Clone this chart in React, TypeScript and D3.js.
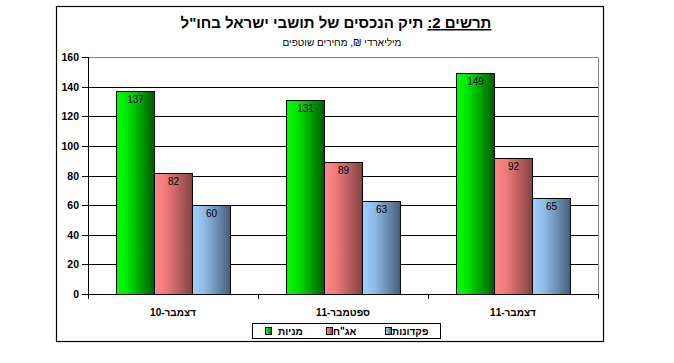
import React, { useEffect, useRef } from 'react';
import * as d3 from 'd3';

const categories = ['דצמבר-10', 'ספטמבר-11', 'דצמבר-11'];
const seriesNames = ['מניות', 'אג"ח', 'פקדונות'];
const stocks = [137, 131, 149];
const bonds = [82, 89, 92];
const deposits = [60, 63, 65];
const yTicks = [0, 20, 40, 60, 80, 100, 120, 140, 160];

const seriesValues = [stocks, bonds, deposits];
// light -> dark horizontal gradients, like the old excel fill
const gradients = [
	['#00ff00', '#00e400', '#005a00'],
	['#ff8a8a', '#f07a7a', '#844242'],
	['#a0d0ff', '#90bde8', '#465e7c'],
];

const FONT = 'Arial, "Liberation Sans", sans-serif';

const App = () => {
	const ref = useRef<SVGSVGElement | null>(null);
	const width = 674;
	const height = 363;

	useEffect(() => {
		if (!ref.current) return;
		const svg = d3.select(ref.current);
		svg.selectAll('*').remove();

		const plot = { l: 88, r: 598, t: 57, b: 294 };

		const x = d3.scaleBand<string>().domain(categories).range([plot.l, plot.r]);
		const xs = d3
			.scaleBand<string>()
			.domain(seriesNames)
			.range([x.bandwidth() * 0.165, x.bandwidth() * 0.835]);
		const y = d3.scaleLinear().domain([0, 160]).range([plot.b, plot.t]);

		const defs = svg.append('defs');
		gradients.forEach((g, i) => {
			const lg = defs.append('linearGradient').attr('id', `grad${i}`).attr('x1', 0).attr('x2', 1).attr('y1', 0).attr('y2', 0);
			lg.append('stop').attr('offset', '0%').attr('stop-color', g[0]);
			lg.append('stop').attr('offset', '30%').attr('stop-color', g[1]);
			lg.append('stop').attr('offset', '100%').attr('stop-color', g[2]);
		});

		svg.append('rect').attr('width', width).attr('height', height).attr('fill', '#fff');

		// outer frame
		svg.append('rect')
			.attr('x', 56.5).attr('y', 6.5).attr('width', 547).attr('height', 335)
			.attr('fill', 'none').attr('stroke', '#000').attr('stroke-width', 1.2);

		// title
		const title = svg.append('text')
			.attr('x', 336).attr('y', 28)
			.attr('direction', 'rtl')
			.attr('text-anchor', 'middle')
			.style('font-family', FONT)
			.style('font-weight', 'bold')
			.style('font-size', '15px');
		title.append('tspan').style('text-decoration', 'underline').text('תרשים 2:');
		title.append('tspan').text(' תיק הנכסים של תושבי ישראל בחו"ל');

		svg.append('text')
			.attr('x', 342).attr('y', 46)
			.attr('direction', 'rtl')
			.attr('text-anchor', 'middle')
			.style('font-family', FONT)
			.style('font-size', '10px')
			.text('מיליארדי ₪, מחירים שוטפים');

		// plot border (gray top/right)
		svg.append('path')
			.attr('d', `M${plot.l},${plot.t + 0.5}H${plot.r + 0.5}V${plot.b}`)
			.attr('fill', 'none').attr('stroke', '#888').attr('stroke-width', 1);

		// grid lines
		svg.append('g')
			.selectAll('line')
			.data(yTicks.filter(d => d > 0 && d < 160))
			.join('line')
			.attr('x1', plot.l).attr('x2', plot.r)
			.attr('y1', d => Math.round(y(d)) + 0.5).attr('y2', d => Math.round(y(d)) + 0.5)
			.attr('stroke', '#000').attr('stroke-width', 1);

		// y axis
		const yAxis = svg.append('g');
		yAxis.append('line')
			.attr('x1', plot.l + 0.5).attr('x2', plot.l + 0.5)
			.attr('y1', plot.t).attr('y2', plot.b)
			.attr('stroke', '#000');
		yAxis.selectAll('.ytick')
			.data(yTicks)
			.join('line')
			.attr('class', 'ytick')
			.attr('x1', plot.l - 6).attr('x2', plot.l)
			.attr('y1', d => Math.round(y(d)) + 0.5).attr('y2', d => Math.round(y(d)) + 0.5)
			.attr('stroke', '#000');
		yAxis.selectAll('.ylab')
			.data(yTicks)
			.join('text')
			.attr('class', 'ylab')
			.attr('x', plot.l - 9)
			.attr('y', d => y(d) + 4)
			.attr('text-anchor', 'end')
			.style('font-family', FONT)
			.style('font-weight', 'bold')
			.style('font-size', '10.5px')
			.text(d => d);

		// bars
		const groups = svg.append('g')
			.selectAll('g')
			.data(categories)
			.join('g')
			.attr('transform', d => `translate(${x(d)},0)`);

		seriesNames.forEach((s, si) => {
			groups.append('rect')
				.attr('x', xs(s)! + 0.5)
				.attr('y', (d, ci) => Math.round(y(seriesValues[si][ci])) + 0.5)
				.attr('width', xs.bandwidth())
				.attr('height', (d, ci) => plot.b - Math.round(y(seriesValues[si][ci])))
				.attr('fill', `url(#grad${si})`)
				.attr('stroke', '#000')
				.attr('stroke-width', 1);
			groups.append('text')
				.attr('x', xs(s)! + xs.bandwidth() / 2 + 0.5)
				.attr('y', (d, ci) => y(seriesValues[si][ci]) + 12)
				.attr('text-anchor', 'middle')
				.style('font-family', FONT)
				.style('font-size', '10px')
				.text((d, ci) => seriesValues[si][ci]);
		});

		// x axis
		const xAxis = svg.append('g');
		xAxis.append('line')
			.attr('x1', plot.l).attr('x2', plot.r + 1)
			.attr('y1', plot.b + 0.5).attr('y2', plot.b + 0.5)
			.attr('stroke', '#000');
		xAxis.selectAll('.xtick')
			.data([...categories.map(c => x(c)!), plot.r])
			.join('line')
			.attr('class', 'xtick')
			.attr('x1', d => d + 0.5).attr('x2', d => d + 0.5)
			.attr('y1', plot.b).attr('y2', plot.b + 5)
			.attr('stroke', '#000');
		xAxis.selectAll('.xlab')
			.data(categories)
			.join('text')
			.attr('class', 'xlab')
			.attr('x', d => x(d)! + x.bandwidth() / 2)
			.attr('y', 316)
			.attr('direction', 'rtl')
			.attr('text-anchor', 'middle')
			.style('font-family', FONT)
			.style('font-weight', 'bold')
			.style('font-size', '10px')
			.text(d => d);

		// legend
		const legend = svg.append('g');
		legend.append('rect')
			.attr('x', 252.5).attr('y', 323.5).attr('width', 188).attr('height', 15)
			.attr('fill', '#fff').attr('stroke', '#000').attr('stroke-width', 1);
		const legendX = [265, 326, 385];
		const textX = [278, 333, 392];
		legend.selectAll('.lsq')
			.data(seriesNames)
			.join('rect')
			.attr('class', 'lsq')
			.attr('x', (d, i) => legendX[i] + 0.5)
			.attr('y', 327.5)
			.attr('width', 6).attr('height', 7)
			.attr('fill', (d, i) => `url(#grad${i})`)
			.attr('stroke', '#000');
		legend.selectAll('.ltxt')
			.data(seriesNames)
			.join('text')
			.attr('class', 'ltxt')
			.attr('x', (d, i) => textX[i])
			.attr('y', 335)
			.attr('text-anchor', 'start')
			.style('font-family', FONT)
			.style('font-weight', 'bold')
			.style('font-size', '10px')
			.text(d => d);
	}, []);

	return (
		<svg
			ref={ref}
			width={width}
			height={height}
			style={{ position: 'absolute', left: 0, top: 0, display: 'block' }}
		/>
	);
};

export default App;
